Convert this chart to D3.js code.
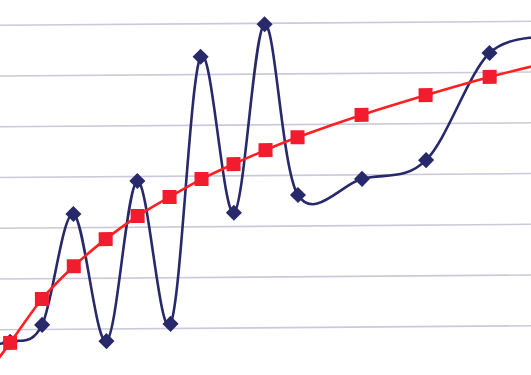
<!DOCTYPE html>
<html>
<head>
<meta charset="utf-8">
<script src="https://cdn.jsdelivr.net/npm/d3@7"></script>
<style>
  html, body { margin: 0; padding: 0; background: #fff; overflow: hidden; }
</style>
</head>
<body>
<script>
// x positions (index along the axis); -1 and 17 sit just outside the visible area
let xValues = [-1, 0, 1, 2, 3, 4, 5, 6, 7, 8, 9, 11, 13, 15, 17];
let navyValues = [7.2, 7.6, 10.9, 32.7, 7.6, 39.1, 10.9, 63.5, 32.7, 69.8, 36.1, 39.2, 42.8, 63.8, 66.7];
let redValues = [-0.9, 7.4, 16.0, 22.4, 27.7, 32.2, 35.9, 39.4, 42.3, 45.0, 47.5, 51.8, 55.6, 59.1, 62.1];
let gridValues = [10, 20, 30, 40, 50, 60, 70];

let width = 531, height = 375;

let svg = d3.select("body").append("svg")
    .attr("width", width)
    .attr("height", height);

let x = d3.scaleLinear().domain([0, 15]).range([9, 490.5]);
let y = d3.scaleLinear().domain([0, 75]).range([378.5, -2.1]);

// whole plot is very slightly tilted in the reference
let g = svg.append("g")
    .attr("transform", "rotate(-0.43," + width / 2 + "," + height / 2 + ")");

// gridlines
g.append("g")
    .selectAll("line")
    .data(gridValues)
    .enter().append("line")
    .attr("x1", -20)
    .attr("x2", width + 20)
    .attr("y1", d => y(d))
    .attr("y2", d => y(d))
    .style("stroke", "#cdc8dc")
    .style("stroke-width", 1.6);

let navy = xValues.map((d, i) => [d, navyValues[i]]);
let red = xValues.map((d, i) => [d, redValues[i]]);

let line = d3.line()
    .x(d => x(d[0]))
    .y(d => y(d[1]))
    .curve(d3.curveCardinal.tension(0));

// navy series
g.append("path")
    .datum(navy)
    .attr("d", line)
    .style("fill", "none")
    .style("stroke", "#27296b")
    .style("stroke-width", 2.6);

g.append("g")
    .selectAll("path")
    .data(navy)
    .enter().append("path")
    .attr("d", d3.symbol().type(d3.symbolDiamond2).size(165))
    .attr("transform", d => "translate(" + x(d[0]) + "," + y(d[1]) + ")")
    .style("fill", "#27296b");

// red series
g.append("path")
    .datum(red)
    .attr("d", line)
    .style("fill", "none")
    .style("stroke", "#ff2020")
    .style("stroke-width", 2.6);

g.append("g")
    .selectAll("rect")
    .data(red)
    .enter().append("rect")
    .attr("x", d => x(d[0]) - 7)
    .attr("y", d => y(d[1]) - 7)
    .attr("width", 14)
    .attr("height", 14)
    .style("fill", "#f11c2d");
</script>
</body>
</html>
